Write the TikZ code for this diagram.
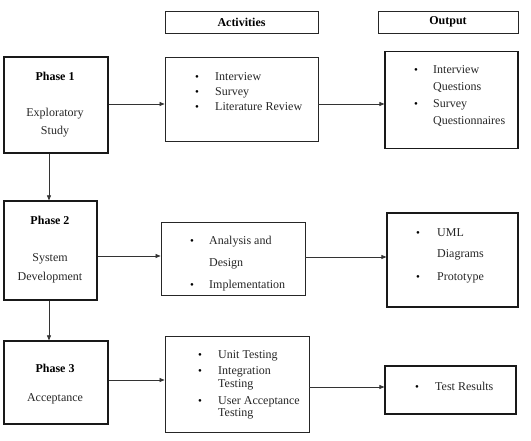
\documentclass[tikz,border=0pt]{standalone}
\usepackage{fontspec}
\setmainfont{Liberation Serif}
\usetikzlibrary{arrows.meta}
\begin{document}
\begin{tikzpicture}[x=1pt,y=-1pt,
  box/.style={draw=black!85, line width=0.9pt, inner sep=0pt},
  obox/.style={draw=black!90, line width=1.2pt, inner sep=0pt},
  txt/.style={font=\fontsize{12}{14}\selectfont, inner sep=0pt, text=black!85},
  btxt/.style={font=\fontsize{12}{14}\selectfont\bfseries, inner sep=0pt},
  lt/.style={txt, anchor=base west},
  bul/.style={font=\fontsize{11}{13}\selectfont, inner sep=0pt, anchor=base},
  arr/.style={draw=black!80, line width=0.7pt, -{Triangle[length=5pt,width=4pt]}}]
\useasboundingbox (0,0) rectangle (531,441);
% headers
\node[box, minimum width=153pt, minimum height=22pt] (hact) at (241.5,22) {};
\node[btxt] at (hact) {Activities};
\node[box, minimum width=140pt, minimum height=22pt] (hout) at (448,22) {};
\node[btxt] at (hout) {Output};
% row 1
\node[obox, minimum width=104pt, minimum height=96pt] (p1) at (56,105) {};
\node[btxt, anchor=base] at (55,81) {Phase 1};
\node[txt, anchor=base] at (55,117) {Exploratory};
\node[txt, anchor=base] at (55,135) {Study};
\node[box, minimum width=153pt, minimum height=84pt] (a1) at (241.5,99) {};
\node[bul] at (197,81) {•}; \node[lt] at (215,81) {Interview};
\node[bul] at (197,96) {•}; \node[lt] at (215,96) {Survey};
\node[bul] at (197,111) {•}; \node[lt] at (215,111) {Literature Review};
\node[obox, minimum width=133pt, minimum height=97pt] (o1) at (451.5,100) {};
\node[bul] at (416,74) {•}; \node[lt] at (433,74) {Interview};
\node[lt] at (433,91) {Questions};
\node[bul] at (416,108) {•}; \node[lt] at (433,108) {Survey};
\node[lt] at (433,125) {Questionnaires};
\draw[arr] (p1.east |- 0,104) -- (a1.west |- 0,104);
\draw[arr] (a1.east |- 0,104) -- (o1.west |- 0,104);
% row 2
\node[obox, minimum width=93pt, minimum height=99pt] (p2) at (50.5,250.5) {};
\node[btxt, anchor=base] at (50,225) {Phase 2};
\node[txt, anchor=base] at (50,262) {System};
\node[txt, anchor=base] at (50,280) {Development};
\node[box, minimum width=144pt, minimum height=73pt] (a2) at (233,258.5) {};
\node[bul] at (192,245) {•}; \node[lt] at (209,245) {Analysis and};
\node[lt] at (209,267) {Design};
\node[bul] at (192,289) {•}; \node[lt] at (209,289) {Implementation};
\node[obox, minimum width=131pt, minimum height=94pt] (o2) at (452.5,260) {};
\node[bul] at (418,237) {•}; \node[lt] at (437,237) {UML};
\node[lt] at (437,258) {Diagrams};
\node[bul] at (418,281) {•}; \node[lt] at (437,281) {Prototype};
\draw[arr] (p2.east |- 0,256) -- (a2.west |- 0,256);
\draw[arr] (a2.east |- 0,257) -- (o2.west |- 0,257);
% row 3
\node[obox, minimum width=104pt, minimum height=83pt] (p3) at (56,382.5) {};
\node[btxt, anchor=base] at (55,372) {Phase 3};
\node[txt, anchor=base] at (55,401) {Acceptance};
\node[box, minimum width=144pt, minimum height=96pt] (a3) at (237,384) {};
\node[bul] at (200,359) {•}; \node[lt] at (218,359) {Unit Testing};
\node[bul] at (200,374) {•}; \node[lt] at (218,374) {Integration};
\node[lt] at (218,388) {Testing};
\node[bul] at (200,404) {•}; \node[lt] at (218,404) {User Acceptance};
\node[lt] at (218,417) {Testing};
\node[obox, minimum width=131pt, minimum height=48pt] (o3) at (450.5,390) {};
\node[bul] at (417,391) {•}; \node[lt] at (435,391) {Test Results};
\draw[arr] (p3.east |- 0,380) -- (a3.west |- 0,380);
\draw[arr] (a3.east |- 0,387) -- (o3.west |- 0,387);
% vertical
\draw[arr] (p1.south -| 49,0) -- (p2.north -| 49,0);
\draw[arr] (p2.south -| 49,0) -- (p3.north -| 49,0);
\end{tikzpicture}
\end{document}
